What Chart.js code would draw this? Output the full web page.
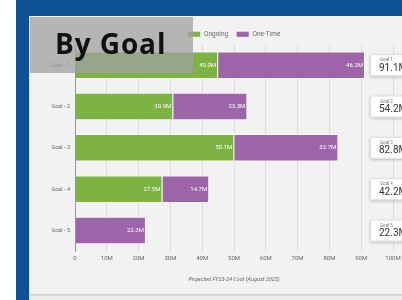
<!DOCTYPE html>
<html>
<head>
<meta charset="utf-8">
<script src="https://cdn.jsdelivr.net/npm/chart.js@4.4.0/dist/chart.umd.min.js"></script>
<style>
  html, body { margin: 0; padding: 0; background: #fff; overflow: hidden; }
  #blue { position: absolute; left: 16px; top: 0; width: 386px; height: 300px; background: #0d5194; }
  #panel { position: absolute; left: 29px; top: 16px; width: 420px; height: 278px; background: #f2f2f2; border-left: 1px solid #e4e4e4; border-bottom: 2px solid #d6d6d6; }
  #panelFoot { position: absolute; left: 29px; top: 296px; width: 420px; height: 4px; background: #ececec; }
  #chartBox { position: absolute; left: 30px; top: 17px; width: 412px; height: 280px; }
  #title { position: absolute; left: 30px; top: 17px; width: 163px; height: 56px; background: rgba(160,160,160,0.75);
           font-family: "Open Sans", sans-serif; font-weight: 700; font-size: 28px; color: #111; z-index: 2; }
  #title span { position: absolute; left: 25px; top: 7px; letter-spacing: 0.9px; }
</style>
</head>
<body>
<div id="blue"></div>
<div id="panel"></div>
<div id="panelFoot"></div>
<div id="chartBox"><canvas id="goalChart" width="412" height="280"></canvas></div>
<div id="title"><span>By Goal</span></div>
<script>
// Projected cost by goal (millions)
const goals = ['Goal - 1', 'Goal - 2', 'Goal - 3', 'Goal - 4', 'Goal - 5'];
const cardNames = ['Goal 1', 'Goal 2', 'Goal 3', 'Goal 4', 'Goal 5'];
const ongoing = [45.0, 30.9, 50.1, 27.5, null];
const oneTime = [46.2, 23.3, 32.7, 14.7, 22.3];
const totals = [91.1, 54.2, 82.8, 42.2, 22.3];

const fontFamily = 'Roboto, sans-serif';

// value labels inside each bar segment
const barLabels = {
    id: 'barLabels',
    afterDatasetsDraw(chart) {
        const ctx = chart.ctx;
        ctx.save();
        ctx.font = '6px ' + fontFamily;
        ctx.fillStyle = '#ffffff';
        ctx.textAlign = 'right';
        ctx.textBaseline = 'middle';
        chart.data.datasets.forEach((ds, di) => {
            chart.getDatasetMeta(di).data.forEach((bar, i) => {
                const v = ds.data[i];
                if (v == null) return;
                ctx.fillText(v.toFixed(1) + 'M', bar.x - 2, bar.y);
            });
        });
        ctx.restore();
    }
};

// legend sits centred over the plot, not the padded canvas
const legendShift = {
    id: 'legendShift',
    afterLayout(chart) {
        const lg = chart.legend;
        const mid = (chart.chartArea.left + chart.chartArea.right) / 2;
        const off = mid - (lg.left + lg.right) / 2;
        lg.left += off;
        lg.right += off;
        lg.top += 3;
        lg.bottom += 3;
    }
};

// total cards on the right
const totalCards = {
    id: 'totalCards',
    afterDraw(chart) {
        const ctx = chart.ctx;
        const yScale = chart.scales.y;
        const left = chart.chartArea.right - 23;
        ctx.save();
        totals.forEach((t, i) => {
            const cy = yScale.getPixelForValue(i);
            ctx.save();
            ctx.shadowColor = 'rgba(0,0,0,0.25)';
            ctx.shadowBlur = 3;
            ctx.shadowOffsetY = 1;
            ctx.fillStyle = '#ffffff';
            ctx.beginPath();
            ctx.roundRect(left, cy - 11, 60, 22, 2);
            ctx.fill();
            ctx.restore();
            ctx.strokeStyle = '#dddddd';
            ctx.lineWidth = 1;
            ctx.beginPath();
            ctx.roundRect(left + 0.5, cy - 10.5, 60, 21, 2);
            ctx.stroke();
            ctx.textAlign = 'left';
            ctx.textBaseline = 'middle';
            ctx.fillStyle = '#777';
            ctx.font = '4.5px ' + fontFamily;
            ctx.fillText(cardNames[i], left + 10, cy - 5);
            ctx.fillStyle = '#333';
            ctx.font = '10px ' + fontFamily;
            ctx.fillText(t.toFixed(1) + 'M', left + 9, cy + 3);
        });
        ctx.restore();
    }
};

new Chart(document.getElementById('goalChart'), {
    type: 'bar',
    data: {
        labels: goals,
        datasets: [
            { label: 'Ongoing', data: ongoing, backgroundColor: '#7cb342', borderColor: 'rgba(255,255,255,0.7)', borderWidth: 1, barPercentage: 0.74, categoryPercentage: 0.9 },
            { label: 'One-Time', data: oneTime, backgroundColor: '#9e64aa', borderColor: 'rgba(255,255,255,0.7)', borderWidth: 1, barPercentage: 0.74, categoryPercentage: 0.9 }
        ]
    },
    options: {
        indexAxis: 'y',
        responsive: false,
        animation: false,
        layout: { padding: { left: 0, right: 49, top: 3, bottom: 10 } },
        plugins: {
            legend: {
                position: 'top',
                labels: { boxWidth: 13, boxHeight: 6, padding: 8, color: '#666', font: { family: fontFamily, size: 6.5 } }
            },
            tooltip: { enabled: false }
        },
        scales: {
            x: {
                stacked: true,
                min: 0,
                max: 100,
                ticks: { stepSize: 10, color: '#666', font: { family: fontFamily, size: 6 }, padding: 4,
                         callback: v => v === 0 ? '0' : v + 'M' },
                grid: { color: '#dcdcdc', drawTicks: false },
                border: { display: false },
                title: { display: true, text: 'Projected FY23-24 Cost (August 2023)', color: '#666',
                         font: { family: fontFamily, size: 5.5, style: 'italic' }, padding: { top: 10, bottom: 4 } }
            },
            y: {
                stacked: true,
                afterFit: scale => { scale.width = 45; },
                ticks: { color: '#666', font: { family: fontFamily, size: 5.5 }, padding: 5 },
                grid: { display: false, drawTicks: false },
                border: { display: true, color: '#999' }
            }
        }
    },
    plugins: [legendShift, barLabels, totalCards]
});
</script>
</body>
</html>
